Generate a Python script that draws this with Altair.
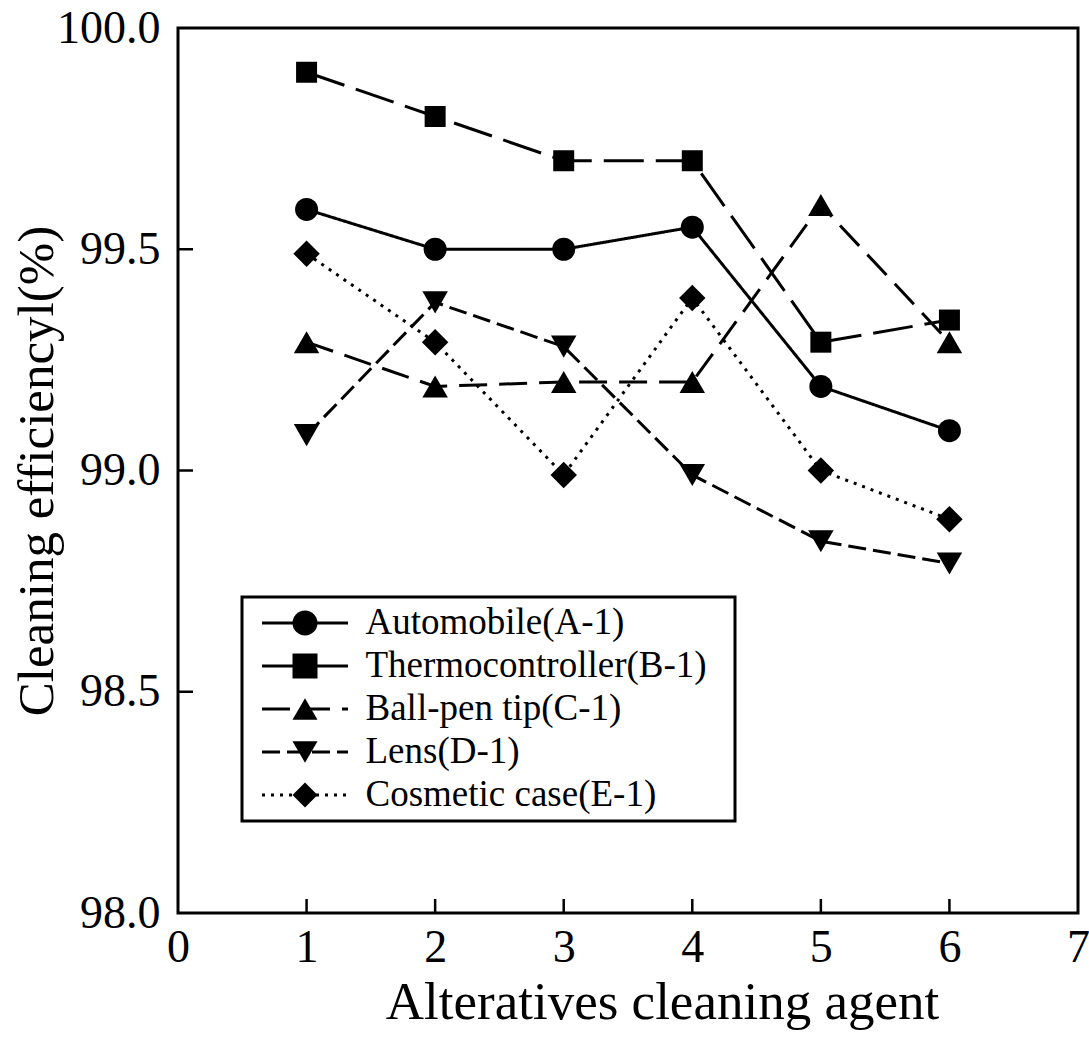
import altair as alt
import pandas as pd

# ---------------- data ----------------
agents = [1, 2, 3, 4, 5, 6]
series_names = [
    "Automobile(A-1)",
    "Thermocontroller(B-1)",
    "Ball-pen tip(C-1)",
    "Lens(D-1)",
    "Cosmetic case(E-1)",
]
automobile = [99.59, 99.50, 99.50, 99.55, 99.19, 99.09]
thermocontroller = [99.90, 99.80, 99.70, 99.70, 99.29, 99.34]
ballpen = [99.29, 99.19, 99.20, 99.20, 99.60, 99.29]
lens = [99.08, 99.38, 99.28, 98.99, 98.84, 98.79]
cosmetic = [99.49, 99.29, 98.99, 99.39, 99.00, 98.89]

x_ticks = [0, 1, 2, 3, 4, 5, 6, 7]
y_ticks = [98.0, 98.5, 99.0, 99.5, 100.0]
inner_x_ticks = [1, 2, 3, 4, 5, 6]
inner_y_ticks = [98.5, 99.0, 99.5]

# styles
shapes = ["circle", "square", "triangle-up", "triangle-down", "diamond"]
marker_sizes = [529, 441, 650, 650, 700]
dashes = [[1, 0], [40, 12], [28, 12], [18, 7], [3, 6]]

W, H = 900, 885

rows = []
for name, vals, ms in zip(series_names,
                          [automobile, thermocontroller, ballpen, lens, cosmetic],
                          marker_sizes):
    for a, v in zip(agents, vals):
        rows.append({"agent": a, "eff": v, "series": name, "series_pt": name, "msize": ms})
df = pd.DataFrame(rows)

x_scale = alt.Scale(domain=[0, 7], nice=False, zero=False)
y_scale = alt.Scale(domain=[98, 100], nice=False, zero=False)

x_enc = alt.X(
    "agent:Q", scale=x_scale,
    axis=alt.Axis(values=x_ticks, format="d", title="Alteratives cleaning agent",
                  grid=False, domain=False, ticks=False, labelFlush=False,
                  labelOverlap=False, labelPadding=12, labelFont="Liberation Serif",
                  labelFontSize=46, labelColor="black", titleFont="Liberation Serif",
                  titleFontSize=53, titleFontWeight="normal", titleColor="black",
                  titlePadding=6, titleX=W / 2 + 34),
)
y_enc = alt.Y(
    "eff:Q", scale=y_scale,
    axis=alt.Axis(values=y_ticks, format=".1f", title="Cleaning efficiencyl(%)",
                  grid=False, domain=False, ticks=False, labelFlush=False,
                  labelOverlap=False, labelPadding=18, labelFont="Liberation Serif",
                  labelFontSize=46, labelColor="black", titleFont="Liberation Serif",
                  titleFontSize=51, titleFontWeight="normal", titleColor="black",
                  titlePadding=-7),
)

LEG_X, LEG_Y = 64, 569
SYM_SIZE = 625           # marker symbol: 25 px
SYM_LEN = 86             # legend line length
HALF = SYM_LEN / 25.0    # half line length in symbol units (r = 12.5 px)
LINE_PATH = f"M-{HALF:.3f},0H{HALF:.3f}"
LABEL_FS = 37
PAD = 7.5
ROWPAD = 5
SYM_OFF = 37             # moves legend symbols right so the line sits inside the box
LABEL_OFF = 42

dash_legend = alt.Legend(
    title=None, orient="none", legendX=LEG_X, legendY=LEG_Y, padding=PAD,
    symbolType=LINE_PATH, symbolSize=SYM_SIZE,
    symbolOffset=SYM_OFF,
    symbolStrokeWidth=3, symbolStrokeColor="black", symbolFillColor="transparent",
    labelFont="Liberation Serif", labelFontSize=LABEL_FS, labelColor="black",
    labelOffset=LABEL_OFF, labelLimit=1000, rowPadding=ROWPAD,
)
# the marker legend carries the frame; its hidden labels sit a little further right
shape_legend = alt.Legend(
    title=None, orient="none", legendX=LEG_X, legendY=LEG_Y,
    padding=PAD, strokeColor="black", symbolSize=SYM_SIZE, symbolOffset=SYM_OFF,
    symbolFillColor="black", symbolStrokeColor="black",
    symbolStrokeWidth=0, symbolOpacity=1,
    labelFont="Liberation Serif", labelFontSize=LABEL_FS, labelOpacity=0,
    labelOffset=LABEL_OFF + 20, labelLimit=1000, rowPadding=ROWPAD,
)

base = alt.Chart(df)

lines = base.mark_line(color="black", strokeWidth=3).encode(
    x=x_enc, y=y_enc,
    strokeDash=alt.StrokeDash("series:N", sort=series_names,
                              scale=alt.Scale(domain=series_names, range=dashes),
                              legend=dash_legend),
)
points = base.mark_point(filled=True, color="black", opacity=1).encode(
    x=x_enc, y=y_enc,
    shape=alt.Shape("series_pt:N", sort=series_names,
                    scale=alt.Scale(range=shapes),
                    legend=shape_legend),
    size=alt.Size("msize:Q", scale=None, legend=None),
)

xt_df = pd.DataFrame({"agent": inner_x_ticks})
yt_df = pd.DataFrame({"eff": inner_y_ticks})
xticks = alt.Chart(xt_df).mark_rule(color="black", strokeWidth=2.5).encode(
    x=x_enc, y=alt.value(H), y2=alt.value(H - 14))
yticks = alt.Chart(yt_df).mark_rule(color="black", strokeWidth=2.5).encode(
    y=y_enc, x=alt.value(0), x2=alt.value(15))

chart = alt.layer(xticks, yticks, lines, points).properties(
    width=W, height=H,
    autosize=alt.AutoSizeParams(type="none"),
    padding={"left": 178, "top": 28, "right": 11, "bottom": 137},
    background="white",
).configure_view(stroke="black", strokeWidth=3).configure_legend(strokeWidth=3)

chart.save("out.html", embed_options={"renderer": "svg", "actions": False})
